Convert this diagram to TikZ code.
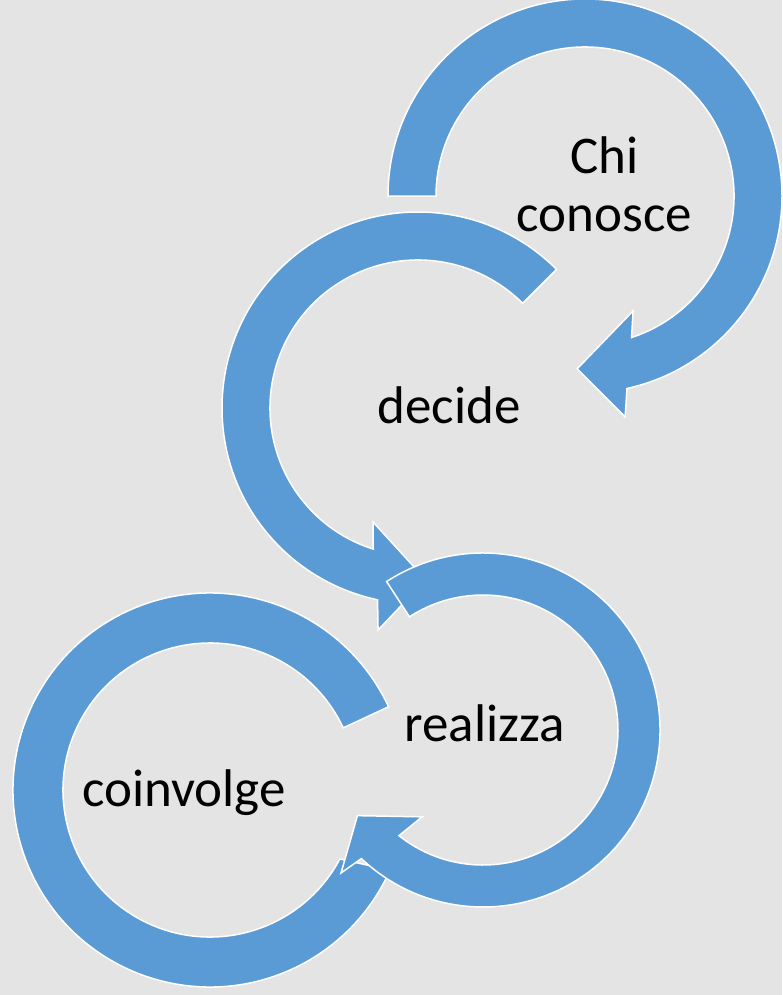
\documentclass[tikz,border=0pt]{standalone}
\usepackage{fontspec}
\setmainfont{Carlito}
\usepackage{tikz}

\begin{document}
\begin{tikzpicture}[x=1pt,y=-1pt]
\definecolor{Bgray}{RGB}{228,228,228}
\definecolor{Ringblue}{RGB}{91,155,213}
\tikzstyle{ring} = [fill=Ringblue, draw=white, line width=1.5pt, line join=miter]
\tikzstyle{word} = [font=\fontsize{53}{58}\selectfont, inner sep=0, align=center]

\useasboundingbox (0,0) rectangle (782,995);
\fill[Bgray] (0,0) rectangle (782,995);

% first ring, clockwise
\begin{scope}[shift={(585,196)}]
\draw[ring] (180:149) -- (180:197) arc[start angle=180, end angle=437.7, radius=197]
  -- (439.7:224.6) -- (452.6:173) -- (427.3:124.6) -- (431.8:149)
  arc[start angle=431.8, end angle=180, radius=149] -- cycle;
\end{scope}

% second ring, the other way round
\begin{scope}[shift={(418,408)}]
\draw[ring] (315:148) -- (315:196) arc[start angle=315, end angle=101.9, radius=196]
  -- (100.2:225.6) -- (87.4:172) -- (111.5:122.6) -- (107.6:148)
  arc[start angle=107.6, end angle=315, radius=148] -- cycle;
\end{scope}

% fourth ring goes under the third
\begin{scope}[shift={(210,790)}]
\draw[ring] (335:147) -- (335:197) arc[start angle=335, end angle=24, radius=197]
  -- (28:147) arc[start angle=28, end angle=335, radius=147] -- cycle;
\end{scope}

\begin{scope}[shift={(483,730)}]
\draw[ring] (237:135) -- (237:177) arc[start angle=237, end angle=493.4, radius=177]
  -- (494.8:201.5) -- (505.7:152) -- (485:106) -- (488.5:135)
  arc[start angle=488.5, end angle=237, radius=135] -- cycle;
\end{scope}

\node[word, anchor=base] (chi) at (604.5,231.7) {Chi\\conosce};
\node[word, anchor=base] (dec) at (449,423.3) {decide};
\node[word, anchor=base] (real) at (484.7,741.7) {realizza};
\node[word, anchor=base] (coinv) at (184,806.7) {coinvolge};

\end{tikzpicture}
\end{document}
